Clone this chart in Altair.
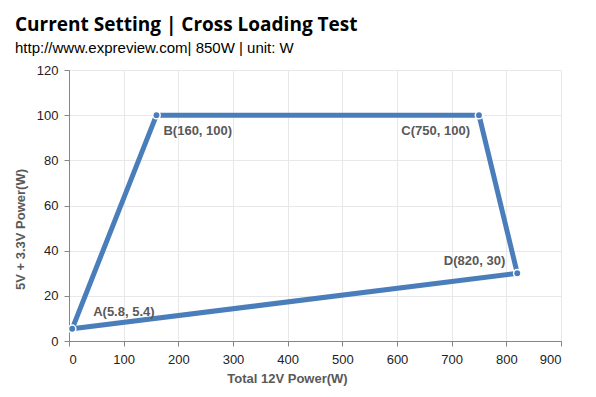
import altair as alt
import pandas as pd

labels = ["A", "B", "C", "D", "A"]
x_vals = [5.8, 160, 750, 820, 5.8]
y_vals = [5.4, 100, 100, 30, 5.4]
texts = ["A(5.8, 5.4)", "B(160, 100)", "C(750, 100)", "D(820, 30)", ""]
x_ticks = [0, 100, 200, 300, 400, 500, 600, 700, 800, 900]
y_ticks = [0, 20, 40, 60, 80, 100, 120]

df = pd.DataFrame({"pt": labels, "x": x_vals, "y": y_vals, "label": texts,
                   "order": list(range(len(labels)))})

BLUE = "#4a7ebb"
GREY = "#595959"

xs = alt.Scale(domain=[0, 900], nice=False)
ys = alt.Scale(domain=[0, 120], nice=False)

xaxis = alt.Axis(values=x_ticks, title="Total 12V Power(W)", grid=True,
                 gridColor="#e8e8e8", domainColor="#868686", tickColor="#868686",
                 tickSize=5, labelFont="Liberation Sans", labelFontSize=13,
                 labelColor="#222222", labelPadding=7, titleFont="Liberation Sans",
                 titleFontSize=13, titleFontWeight="bold", titleColor=GREY,
                 titlePadding=6, titleX=218)
yaxis = alt.Axis(values=y_ticks, title="5V + 3.3V Power(W)", grid=True,
                 gridColor="#e8e8e8", domainColor="#868686", tickColor="#868686",
                 tickSize=5, labelFont="Liberation Sans", labelFontSize=13,
                 labelColor="#222222", labelPadding=6, titleFont="Liberation Sans",
                 titleFontSize=13, titleFontWeight="bold", titleColor=GREY,
                 titlePadding=9, titleY=159)

base = alt.Chart(df)

line = base.mark_line(color=BLUE, strokeWidth=5, strokeJoin="round").encode(
    x=alt.X("x:Q", scale=xs, axis=xaxis),
    y=alt.Y("y:Q", scale=ys, axis=yaxis),
    order="order:O",
)

pts = base.transform_filter("datum.label != ''").mark_point(
    filled=True, color=BLUE, size=55, stroke="white", strokeWidth=1.5, opacity=1
).encode(x=alt.X("x:Q", scale=xs), y=alt.Y("y:Q", scale=ys))

def lab(name, align, dx, dy):
    return base.transform_filter(alt.datum.pt == name).transform_filter(
        "datum.label != ''").mark_text(
        align=align, baseline="middle", dx=dx, dy=dy, font="Liberation Sans",
        fontSize=13, fontWeight="bold", color=GREY
    ).encode(x=alt.X("x:Q", scale=xs), y=alt.Y("y:Q", scale=ys), text="label:N")

chart = alt.layer(
    line, pts,
    lab("A", "left", 21, -17),
    lab("B", "left", 7, 16),
    lab("C", "right", -9, 16),
    lab("D", "right", -12, -12),
).properties(
    width=492, height=271,
    title=alt.TitleParams(
        text="Current Setting | Cross Loading Test",
        subtitle="http://www.expreview.com| 850W | unit: W",
        anchor="start", frame="group", dx=-54, offset=8,
        font="Open Sans", fontSize=19, fontWeight="bold", color="#000000",
        subtitleFont="Liberation Sans", subtitleFontSize=15,
        subtitleColor="#000000", subtitlePadding=6,
    ),
    autosize=alt.AutoSizeParams(type="none"),
    padding={"left": 61, "top": 62, "right": 27, "bottom": 48},
).configure_view(stroke=None)

chart.save("out.html", embed_options={"renderer": "svg", "actions": False})
